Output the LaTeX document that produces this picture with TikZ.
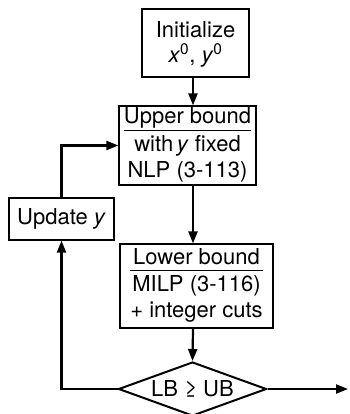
\documentclass[tikz,border=0pt]{standalone}
\usepackage{fontspec}
\setmainfont{TeX Gyre Heros}
\usetikzlibrary{shapes.geometric,arrows.meta}
\begin{document}
\begin{tikzpicture}[x=1pt,y=-1pt,
  box/.style={draw,line width=1.2pt,inner sep=0pt,align=center,
    font=\fontsize{22}{25}\selectfont},
  conn/.style={line width=2.2pt,-{Triangle[length=12pt,width=9pt]}}]
\useasboundingbox (0,0) rectangle (349,414);
\node[box,minimum width=107pt,minimum height=68pt] (init) at (195.5,43)
  {\rule{0pt}{18pt}Initialize\\\textit{x}\textsuperscript{0}, \textit{y}\textsuperscript{0}};
\node[box,minimum width=137pt,minimum height=79pt] (upper) at (187.5,145.5)
  {\begin{tabular}{@{}c@{}}Upper bound\\[-1.5pt]\hline\rule{0pt}{21pt}with\,\textit{y} fixed\\[1pt]NLP (3-113)\end{tabular}};
\node[box,minimum width=105pt,minimum height=42pt] (update) at (61.5,219)
  {Update \textit{y}};
\node[box,minimum width=153pt,minimum height=84pt] (lower) at (196.5,286)
  {\begin{tabular}{@{}c@{}}Lower bound\\[-1.5pt]\hline\rule{0pt}{21pt}MILP (3-116)\\[1pt]+ integer cuts\end{tabular}};
\node[box,diamond,aspect=2.74,line width=2pt,minimum width=148pt,minimum height=54pt,inner sep=0pt] (test) at (192.5,389)
  {LB ≥ UB};
\coordinate (exit) at (348,389);
\coordinate (col) at (193,0);
\draw[conn] (init.south -| col) -- (upper.north -| col);
\draw[conn] (upper.south -| col) -- (lower.north -| col);
\draw[conn] (lower.south -| col) -- (test.north);
\draw[conn] (test.east) -- (exit);
\draw[conn] (test.west) -- (test.west -| update.south) -- (update.south);
\draw[conn] (update.north) -- (update.north |- upper.west) -- (upper.west);
\end{tikzpicture}
\end{document}
